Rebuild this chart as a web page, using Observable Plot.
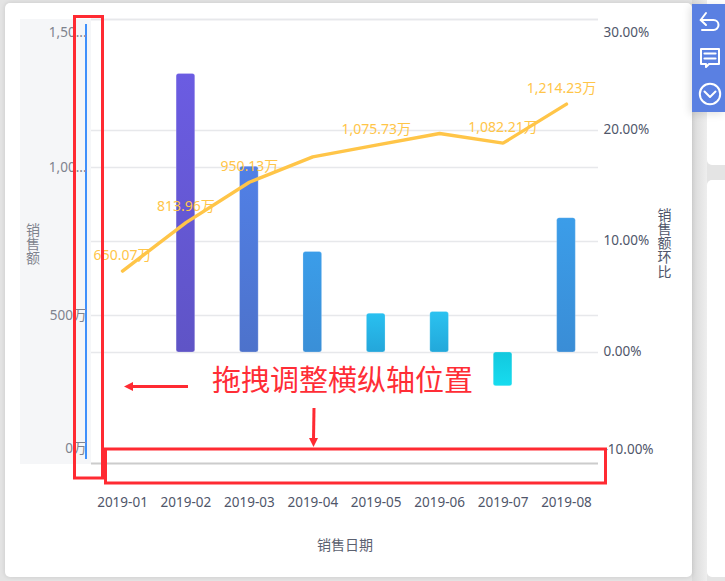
<!DOCTYPE html>
<html lang="zh">
<head>
<meta charset="utf-8">
<script src="https://cdn.jsdelivr.net/npm/d3@7"></script>
<script src="https://cdn.jsdelivr.net/npm/@observablehq/plot@0.6"></script>
<style>
  html,body{margin:0;padding:0;width:725px;height:581px;overflow:hidden;background:#e4e4e4;}
  *{box-sizing:border-box;}
  #stage{position:relative;width:725px;height:581px;font-family:"Noto Sans","Noto Sans CJK SC",sans-serif;overflow:hidden;}
  .abs{position:absolute;}
  #gutter{left:692px;top:0;width:15px;height:581px;background:linear-gradient(90deg,#d9d9d9,#eeeeee);}
  #card{left:5px;top:3px;width:687px;height:574px;background:#fff;border-radius:5px;box-shadow:0 0 5px rgba(0,0,0,.12);}
  #side1{left:707px;top:-6px;width:40px;height:171px;background:#fff;border-radius:5px;}
  #side2{left:707px;top:180px;width:40px;height:397px;background:#fff;border-radius:5px;}
  #panel{left:20px;top:19px;width:71px;height:445px;background:#f5f6f8;}
  #axisline{left:85px;top:24px;width:2px;height:435px;background:#3f90fb;}
  #tools{left:692px;top:4px;width:33px;height:108px;background:#5a80e2;box-shadow:-2px 2px 8px rgba(0,0,0,.12);}
  #chart{left:0;top:0;}
  #chart svg{display:block;}
  #note{left:212px;top:358px;font-size:29px;line-height:44px;color:#ff2d36;white-space:nowrap;letter-spacing:0;}
  #over{left:0;top:0;}
</style>
</head>
<body>
<div id="stage">
  <div class="abs" id="gutter"></div>
  <div class="abs" id="card"></div>
  <div class="abs" id="side1"></div>
  <div class="abs" id="side2"></div>
  <div class="abs" id="panel"></div>
  <div class="abs" id="axisline"></div>
  <div class="abs" id="chart"></div>
  <div class="abs" id="tools">
    <svg width="33" height="108" fill="none" stroke="#fff" stroke-width="2" stroke-linecap="round" stroke-linejoin="round">
      <path d="M14 9 L8.700 16 L14 21"/><path d="M8.700 16 H21.500 a5 5 0 0 1 0 10 H10"/>
      <path d="M9 45 H27 V60 H17 L14 63 V60 H9 Z"/><path d="M12.500 49.500 H23.500 M12.500 54.500 H23.500" stroke-width="2.200"/>
      <circle cx="18" cy="90" r="10.200"/><path d="M12.500 87.500 L18 93 L23.500 87.500"/>
    </svg>
  </div>
  <svg class="abs" id="over" width="725" height="581" fill="none">
    <rect x="74.500" y="16.500" width="28" height="461.500" stroke="#ff2a32" stroke-width="3"/>
    <rect x="105.500" y="449" width="500" height="34" stroke="#ff2a32" stroke-width="3"/>
    <path d="M188 386.500 H130" stroke="#ff2a32" stroke-width="3"/>
    <path d="M124 386.500 L133 382 V391 Z" fill="#ff2a32"/>
    <path d="M314 408 L313.500 439" stroke="#ff2a32" stroke-width="3"/>
    <path d="M313.500 447 L309 438 H318 Z" fill="#ff2a32"/>
  </svg>
  <div class="abs" id="note">拖拽调整横纵轴位置</div>
</div>
<script>
const months = ["2019-01","2019-02","2019-03","2019-04","2019-05","2019-06","2019-07","2019-08"];
const sales = [650.07,813.96,950.13,1036,1075.73,1115,1082.21,1214.23];
const salesLabels = ["650.07万","813.96万","950.13万",null,"1,075.73万",null,"1,082.21万","1,214.23万"];
const growth = [null,25.1,16.73,9.05,3.5,3.65,-3.05,12.1];

const leftTickValues = [1500,1000,500,0];
const leftTickLabels = ["1,50...","1,00...","500万","0万"];
const rightTickValues = [30,20,10,0,-10];
const rightTickLabels = ["30.00%","20.00%","10.00%","0.00%","-10.00%"];
const verticalTitles = ["销售额","销售额环比"];

const barTop = [null,"#6b5ce2","#5180e6","#3b9de9","#29c0f0","#2bc2f0","#12c8de","#3b9de9"];
const barBottom = [null,"#5f54c6","#4d72cb","#3a8fd7","#24a6da","#22a8da","#17dcef","#3a8dd6"];

// The bars share the frame with the line: the percent axis is laid over the sales scale
// (-10% sits on 0万 and 30% on 1,500万).
const pctToSales = p => (p + 10) * 37.5;

const rows = months.map((m,i)=>({month:m,sales:sales[i],label:salesLabels[i],growth:growth[i],i}));
const barRows = rows.filter(d=>d.growth!=null);
const labelRows = rows.filter(d=>d.label!=null);
const leftTicks = leftTickValues.map((v,i)=>({v,t:leftTickLabels[i]}));
const rightTicks = rightTickValues.map((v,i)=>({v:pctToSales(v),t:rightTickLabels[i]}));

const defs = () => {
  const NS = "http://www.w3.org/2000/svg";
  const d = document.createElementNS(NS,"defs");
  barRows.forEach(r=>{
    const g = document.createElementNS(NS,"linearGradient");
    g.setAttribute("id","bar"+r.i);
    g.setAttribute("x1","0");g.setAttribute("x2","0");g.setAttribute("y1","0");g.setAttribute("y2","1");
    [[0,barTop[r.i]],[1,barBottom[r.i]]].forEach(([o,c])=>{
      const s = document.createElementNS(NS,"stop");
      s.setAttribute("offset",o);s.setAttribute("stop-color",c);g.appendChild(s);
    });
    d.appendChild(g);
  });
  return d;
};

const AXIS = "#50566a", SOFT = "#7f838e", YEL = "#ffc548";
const chart = Plot.plot({
  width:725, height:581,
  marginLeft:91, marginRight:127, marginTop:19, marginBottom:118,
  style:{background:"transparent",fontFamily:'"Noto Sans","Noto Sans CJK SC",sans-serif'},
  x:{type:"band",domain:months,range:[90.3,597.7],round:false,paddingInner:.706,paddingOuter:.353,axis:null},
  y:{domain:[0,1500],axis:null},
  color:{type:"identity"},
  marks:[
    defs,
    Plot.ruleY([...leftTickValues.slice(0,3),...rightTickValues.slice(0,4).map(pctToSales)],{stroke:"#e7e8eb",strokeWidth:1.3}),
    Plot.ruleY([0],{stroke:"#cccccc",strokeWidth:2}),
    Plot.barY(barRows,{x:"month",y1:()=>pctToSales(0),y2:d=>pctToSales(d.growth),fill:d=>`url(#bar${d.i})`,rx:2.5,stroke:"#ffffff",strokeOpacity:.22}),
    Plot.line(rows,{x:"month",y:"sales",stroke:YEL,strokeWidth:3.4,curve:"linear",strokeLinejoin:"miter"}),
    Plot.text(labelRows.slice(0,-1),{x:"month",y:"sales",text:"label",dy:-16,fill:YEL,fontSize:14}),
    Plot.text(labelRows.slice(-1),{x:"month",y:"sales",text:"label",dy:-16,dx:-5,fill:YEL,fontSize:14}),
    Plot.text(leftTicks.slice(1,3),{y:"v",text:"t",frameAnchor:"left",textAnchor:"end",dx:-5,fill:SOFT,fontSize:13.5}),
    Plot.text(leftTicks.slice(0,1),{y:"v",text:"t",frameAnchor:"left",textAnchor:"end",dx:-5,dy:13,fill:SOFT,fontSize:13.5}),
    Plot.text(leftTicks.slice(3),{y:"v",text:"t",frameAnchor:"left",textAnchor:"end",dx:-5,dy:-15,fill:SOFT,fontSize:13.5}),
    Plot.text(rightTicks.slice(1,4),{y:"v",text:"t",frameAnchor:"right",textAnchor:"start",dx:5,dy:-1,fill:AXIS,fontSize:13.5}),
    Plot.text(rightTicks.slice(0,1),{y:"v",text:"t",frameAnchor:"right",textAnchor:"start",dx:5,dy:13,fill:AXIS,fontSize:13.5}),
    Plot.text(rightTicks.slice(4),{y:"v",text:"t",frameAnchor:"right",textAnchor:"start",dx:5,dy:-14,fill:AXIS,fontSize:13.5}),
    Plot.text(months,{x:d=>d,frameAnchor:"bottom",dy:39,lineAnchor:"middle",fill:AXIS,fontSize:13.5}),
    Plot.text(["销售日期"],{frameAnchor:"bottom",dy:82,lineAnchor:"middle",fill:"#5c6170",fontSize:14}),
    Plot.text(verticalTitles.slice(0,1),{frameAnchor:"left",dx:-59,dy:-2,fill:SOFT,fontSize:14}),
    Plot.text(verticalTitles.slice(1),{frameAnchor:"right",dx:65.5,dy:-3,fill:AXIS,fontSize:14})
  ]
});
chart.querySelectorAll("text").forEach(t=>{
  if (!verticalTitles.includes(t.textContent)) return;
  t.style.writingMode="vertical-rl";
  t.style.textOrientation="upright";
  t.style.textAnchor="middle";
  t.style.letterSpacing="0.3px";
});
document.getElementById("chart").appendChild(chart);
</script>
</body>
</html>
